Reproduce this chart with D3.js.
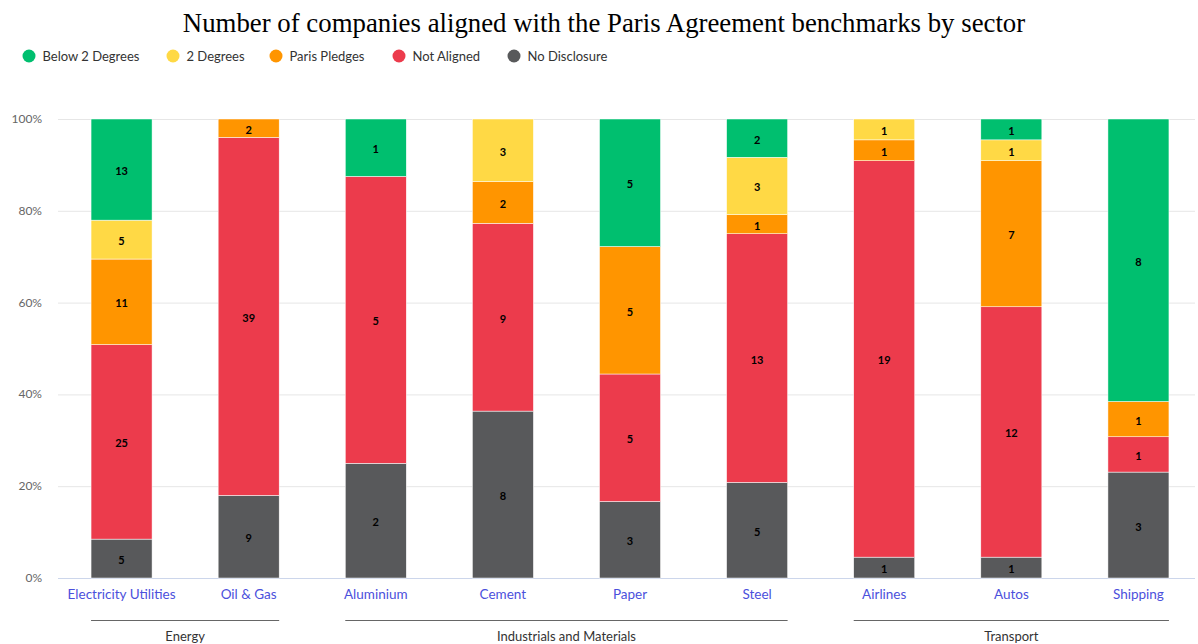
<!DOCTYPE html>
<html>
<head>
<meta charset="utf-8">
<script src="https://cdn.jsdelivr.net/npm/d3@7"></script>
<style>
  body { margin: 0; background: #fff; }
  svg { display: block; font-family: Lato, "Noto Sans", sans-serif; }
</style>
</head>
<body>
<svg id="chart" width="1198" height="644"></svg>
<script>
// chart data
const categories = ['Electricity Utilities', 'Oil & Gas', 'Aluminium', 'Cement', 'Paper', 'Steel', 'Airlines', 'Autos', 'Shipping']
const seriesNames = ['No Disclosure', 'Not Aligned', 'Paris Pledges', '2 Degrees', 'Below 2 Degrees']
const noDisclosure = [5, 9, 2, 8, 3, 5, 1, 1, 3]
const notAligned = [25, 39, 5, 9, 5, 13, 19, 12, 1]
const parisPledges = [11, 2, 0, 2, 5, 1, 1, 7, 1]
const twoDegrees = [5, 0, 0, 3, 0, 3, 1, 1, 0]
const below2Degrees = [13, 0, 1, 0, 5, 2, 0, 1, 8]
const yTicks = [0, 0.2, 0.4, 0.6, 0.8, 1]
const groupNames = ['Energy', 'Industrials and Materials', 'Transport']
const groupMembers = [[0, 1], [2, 5], [6, 8]]

const legendOrder = ['Below 2 Degrees', '2 Degrees', 'Paris Pledges', 'Not Aligned', 'No Disclosure']
const colors = {
    'Below 2 Degrees': '#00bf6f',
    '2 Degrees': '#ffd945',
    'Paris Pledges': '#ff9500',
    'Not Aligned': '#ec3b4c',
    'No Disclosure': '#58595b'
}

const svg = d3.select('#chart')
const margin = { top: 119, left: 58, right: 1202, bottom: 578 }

const values = [noDisclosure, notAligned, parisPledges, twoDegrees, below2Degrees]
const table = categories.map((c, i) => {
    const row = { category: c }
    seriesNames.forEach((s, j) => row[s] = values[j][i])
    return row
})

const stacked = d3.stack().keys(seriesNames).offset(d3.stackOffsetExpand)(table)

const x = d3.scaleBand().domain(categories).range([margin.left, margin.right]).paddingInner(0.52).paddingOuter(0.26)
const y = d3.scaleLinear().domain([0, 1]).range([margin.bottom, margin.top])

// title
svg.append('text')
    .attr('x', 604).attr('y', 32)
    .attr('text-anchor', 'middle')
    .style('font-family', '"Liberation Serif", "Times New Roman", serif')
    .style('font-size', '26.8px')
    .attr('fill', '#000')
    .text('Number of companies aligned with the Paris Agreement benchmarks by sector')

// legend
const legendX = [29, 173, 276, 399, 514]
const legend = svg.append('g')
legendOrder.forEach((name, i) => {
    const g = legend.append('g').attr('transform', `translate(${legendX[i]}, 56)`)
    g.append('circle').attr('r', 6.5).attr('fill', colors[name])
    g.append('text').attr('x', 13.5).attr('y', 4.5)
        .style('font-size', '13px').attr('fill', '#333')
        .text(name)
})

// grid + y axis labels
const grid = svg.append('g')
yTicks.forEach(t => {
    grid.append('line')
        .attr('x1', margin.left).attr('x2', 1195)
        .attr('y1', y(t) + 0.5).attr('y2', y(t) + 0.5)
        .attr('stroke', t === 0 ? '#ccd6eb' : '#e6e6e6')
    grid.append('text')
        .attr('x', 42).attr('y', y(t) + 4)
        .attr('text-anchor', 'end')
        .style('font-size', '12px').attr('fill', '#666')
        .text(d3.format('.0%')(t))
})

// bars
const bars = svg.append('g')
stacked.forEach(layer => {
    layer.forEach(d => {
        const v = d.data[layer.key]
        if (!v) return
        const x0 = x(d.data.category), y0 = y(d[1]), h = y(d[0]) - y(d[1])
        bars.append('rect')
            .attr('x', x0).attr('y', y0)
            .attr('width', x.bandwidth()).attr('height', h)
            .attr('fill', colors[layer.key])
            .attr('stroke', '#fff').attr('stroke-width', 0.5)
        bars.append('text')
            .attr('x', x0 + x.bandwidth() / 2).attr('y', y0 + h / 2 + 5.5)
            .attr('text-anchor', 'middle')
            .style('font-size', '11px').style('font-weight', 'bold')
            .attr('fill', '#000')
            .text(v)
    })
})

// category labels
categories.forEach(c => {
    svg.append('text')
        .attr('x', x(c) + x.bandwidth() / 2).attr('y', 599)
        .attr('text-anchor', 'middle')
        .style('font-size', '13.5px').attr('fill', '#4b50dc')
        .text(c)
})

// group lines and labels: from left edge of first bar to right edge of last bar
groupNames.forEach((name, i) => {
    const [a, b] = groupMembers[i]
    const x1 = x(categories[a])
    const x2 = x(categories[b]) + x.bandwidth()
    svg.append('line')
        .attr('x1', x1).attr('x2', x2)
        .attr('y1', 620.5).attr('y2', 620.5)
        .attr('stroke', '#666').attr('stroke-width', 1)
    svg.append('text')
        .attr('x', (x1 + x2) / 2).attr('y', 640.5)
        .attr('text-anchor', 'middle')
        .style('font-size', '13px').attr('fill', '#333')
        .text(name)
})
</script>
</body>
</html>
